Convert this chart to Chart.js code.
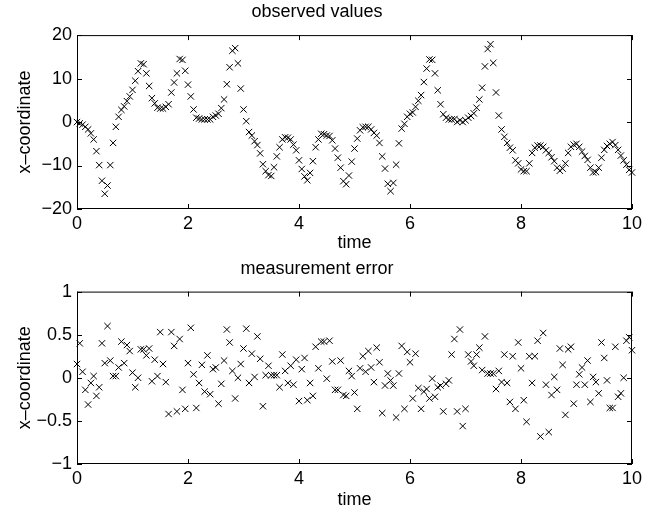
<!DOCTYPE html>
<html>
<head>
<meta charset="utf-8">
<script src="https://cdn.jsdelivr.net/npm/chart.js@4"></script>
<style>
body { margin: 0; background: #fff; }
canvas { position: absolute; left: 0; }
#topChart { top: 0; }
#bottomChart { top: 258px; }
</style>
</head>
<body>
<canvas id="topChart" width="646" height="258"></canvas>
<canvas id="bottomChart" width="646" height="258"></canvas>
<script>
// sample times (s)
const time = [
  0, 0.05, 0.1, 0.15, 0.2, 0.25, 0.3, 0.35, 0.4, 0.45, 0.5, 0.55, 0.6, 0.65, 0.7, 0.75, 0.8, 0.85, 0.9, 0.95,
  1, 1.05, 1.1, 1.15, 1.2, 1.25, 1.3, 1.35, 1.4, 1.45, 1.5, 1.55, 1.6, 1.65, 1.7, 1.75, 1.8, 1.85, 1.9, 1.95,
  2, 2.05, 2.1, 2.15, 2.2, 2.25, 2.3, 2.35, 2.4, 2.45, 2.5, 2.55, 2.6, 2.65, 2.7, 2.75, 2.8, 2.85, 2.9, 2.95,
  3, 3.05, 3.1, 3.15, 3.2, 3.25, 3.3, 3.35, 3.4, 3.45, 3.5, 3.55, 3.6, 3.65, 3.7, 3.75, 3.8, 3.85, 3.9, 3.95,
  4, 4.05, 4.1, 4.15, 4.2, 4.25, 4.3, 4.35, 4.4, 4.45, 4.5, 4.55, 4.6, 4.65, 4.7, 4.75, 4.8, 4.85, 4.9, 4.95,
  5, 5.05, 5.1, 5.15, 5.2, 5.25, 5.3, 5.35, 5.4, 5.45, 5.5, 5.55, 5.6, 5.65, 5.7, 5.75, 5.8, 5.85, 5.9, 5.95,
  6, 6.05, 6.1, 6.15, 6.2, 6.25, 6.3, 6.35, 6.4, 6.45, 6.5, 6.55, 6.6, 6.65, 6.7, 6.75, 6.8, 6.85, 6.9, 6.95,
  7, 7.05, 7.1, 7.15, 7.2, 7.25, 7.3, 7.35, 7.4, 7.45, 7.5, 7.55, 7.6, 7.65, 7.7, 7.75, 7.8, 7.85, 7.9, 7.95,
  8, 8.05, 8.1, 8.15, 8.2, 8.25, 8.3, 8.35, 8.4, 8.45, 8.5, 8.55, 8.6, 8.65, 8.7, 8.75, 8.8, 8.85, 8.9, 8.95,
  9, 9.05, 9.1, 9.15, 9.2, 9.25, 9.3, 9.35, 9.4, 9.45, 9.5, 9.55, 9.6, 9.65, 9.7, 9.75, 9.8, 9.85, 9.9, 9.95,
  10
];

// observed x-coordinate
const observed = [
  0.0, -0.3, -0.6, -1.1, -1.7, -2.6, -4.0, -6.7, -9.9, -13.5,
  -16.5, -14.6, -9.9, -4.8, -1.1, 1.2, 2.8, 3.6, 4.8, 5.9,
  7.4, 9.5, 11.7, 13.5, 13.3, 11.2, 8.3, 5.5, 4.3, 3.3,
  3.1, 3.1, 3.5, 4.1, 6.8, 9.1, 11.2, 14.5, 14.3, 11.8,
  8.6, 5.9, 2.9, 1.0, 0.8, 0.6, 0.6, 0.6, 0.6, 1.2,
  1.5, 1.9, 3.2, 5.2, 8.7, 12.6, 16.4, 17.0, 13.5, 7.7,
  2.9, 0.2, -2.3, -3.1, -4.4, -5.3, -7.2, -9.7, -11.3, -12.2,
  -12.4, -10.4, -7.9, -5.8, -4.0, -3.5, -3.6, -4.0, -5.2, -6.5,
  -8.8, -10.8, -12.5, -13.4, -11.7, -9.0, -5.8, -4.0, -2.7, -2.8,
  -3.1, -3.2, -4.2, -6.1, -8.2, -10.5, -13.6, -14.3, -12.3, -9.1,
  -6.1, -3.8, -1.9, -1.2, -1.1, -1.1, -1.7, -2.5, -3.1, -4.8,
  -7.9, -10.7, -14.2, -15.9, -14.0, -9.8, -4.9, -1.5, -0.4, 1.2,
  1.9, 2.2, 3.5, 4.9, 6.2, 9.2, 12.3, 14.4, 14.3, 11.2,
  7.3, 4.1, 1.8, 1.0, 0.6, 0.6, 0.7, 0.0, 0.4, 0.0,
  0.4, 1.0, 1.4, 2.0, 3.3, 5.2, 7.9, 12.8, 16.8, 17.9,
  13.6, 6.8, 1.5, -1.7, -3.4, -4.8, -5.9, -6.5, -8.8, -9.5,
  -10.9, -11.3, -11.3, -9.5, -7.1, -5.9, -5.4, -5.4, -5.7, -6.5,
  -7.1, -8.1, -9.0, -10.5, -11.2, -10.7, -9.5, -7.1, -5.7, -5.2,
  -5.0, -5.7, -6.8, -7.8, -8.7, -10.5, -11.6, -11.5, -10.5, -8.2,
  -6.4, -5.5, -5.0, -4.6, -5.3, -6.4, -7.7, -8.8, -9.8, -11.0,
  -11.6
];

// measurement error
const measError = [
  0.16, 0.40, 0.07, -0.14, -0.31, -0.06, 0.02, -0.21, -0.11, 0.40,
  0.17, 0.60, 0.20, 0.02, 0.02, 0.12, 0.42, 0.17, 0.38, 0.31,
  0.06, -0.11, 0.00, 0.33, 0.33, 0.26, 0.34, -0.04, 0.21, 0.02,
  0.53, 0.16, -0.05, -0.42, 0.53, 0.37, -0.39, 0.45, -0.14, -0.36,
  0.17, 0.58, 0.04, -0.35, -0.06, 0.15, -0.16, 0.26, -0.19, 0.10,
  0.12, -0.30, -0.07, 0.20, 0.56, 0.41, 0.08, -0.24, 0.00, 0.16,
  0.34, 0.57, -0.06, 0.28, 0.01, 0.48, 0.22, -0.33, 0.03, 0.14,
  0.03, 0.03, 0.03, -0.11, 0.27, 0.08, -0.06, 0.14, -0.08, 0.21,
  -0.27, 0.10, 0.23, -0.26, -0.06, -0.21, 0.36, 0.11, 0.42, 0.42,
  -0.01, 0.43, 0.19, -0.14, -0.14, 0.20, -0.20, -0.21, 0.08, 0.02,
  -0.17, -0.36, 0.11, 0.25, 0.07, 0.31, 0.12, -0.05, 0.35, 0.18,
  -0.41, -0.09, 0.05, -0.03, -0.09, -0.46, 0.05, 0.37, -0.36, 0.30,
  0.18, -0.24, 0.28, -0.12, -0.36, -0.16, -0.13, -0.24, -0.01, -0.22,
  -0.11, -0.09, -0.39, -0.07, -0.03, 0.27, 0.45, -0.39, 0.56, -0.56,
  -0.36, 0.27, 0.19, 0.14, 0.27, 0.35, 0.09, 0.48, 0.05, 0.05,
  0.05, -0.13, 0.08, -0.05, 0.27, -0.06, -0.28, 0.25, -0.36, 0.41,
  0.11, -0.26, -0.51, 0.25, -0.06, 0.25, 0.43, -0.68, 0.52, -0.08,
  -0.63, -0.20, 0.01, -0.14, 0.34, 0.15, -0.43, 0.33, 0.36, -0.30,
  -0.08, 0.04, 0.12, -0.08, 0.20, -0.28, 0.01, -0.05, -0.18, 0.41,
  0.23, -0.03, -0.35, -0.35, 0.36, -0.22, -0.18, 0.00, 0.43, 0.47,
  0.32
];

const timeTicks = [0, 2, 4, 6, 8, 10];
const observedTicks = [-20, -10, 0, 10, 20];
const errorTicks = [-1, -0.5, 0, 0.5, 1];

const FONT = '"Liberation Sans", Arial, Helvetica, sans-serif';

// matlab style: closed box, tick marks pointing inwards
const boxPlugin = {
  id: 'box',
  afterDatasetsDraw(chart) {
    const {ctx, chartArea: a, scales} = chart;
    ctx.save();
    ctx.strokeStyle = '#000';
    ctx.lineWidth = 1;
    ctx.strokeRect(a.left + 0.5, a.top + 0.5, a.right - a.left - 1, a.bottom - a.top - 1);
    ctx.beginPath();
    scales.x.ticks.forEach(t => {
      const px = Math.round(scales.x.getPixelForValue(t.value)) + 0.5;
      ctx.moveTo(px, a.bottom); ctx.lineTo(px, a.bottom - 5);
      ctx.moveTo(px, a.top); ctx.lineTo(px, a.top + 5);
    });
    scales.y.ticks.forEach(t => {
      const py = Math.round(scales.y.getPixelForValue(t.value)) + 0.5;
      ctx.moveTo(a.left, py); ctx.lineTo(a.left + 5, py);
      ctx.moveTo(a.right, py); ctx.lineTo(a.right - 5, py);
    });
    ctx.stroke();
    ctx.restore();
  }
};

function fmt(v) {
  return v < 0 ? '\u2212' + String(-v) : String(v);
}

function makeChart(id, values, yTicks, title, titlePad, xAxisHeight, xTitlePad) {
  const ctx = document.getElementById(id).getContext('2d');
  return new Chart(ctx, {
    type: 'scatter',
    data: {
      datasets: [{
        data: time.map((t, i) => ({x: t, y: values[i]})),
        pointStyle: 'crossRot',
        pointRadius: 4.5,
        pointBorderWidth: 1,
        pointBorderColor: '#000',
        pointBackgroundColor: '#000',
        clip: false
      }]
    },
    options: {
      responsive: false,
      animation: false,
      devicePixelRatio: 1,
      layout: { padding: { top: 0, right: 12, bottom: 0, left: 0 } },
      plugins: {
        legend: { display: false },
        tooltip: { enabled: false },
        title: {
          display: true,
          text: title,
          color: '#000',
          font: { family: FONT, size: 18, weight: 'normal' },
          padding: titlePad
        }
      },
      scales: {
        x: {
          type: 'linear',
          min: 0, max: 10,
          afterBuildTicks: s => { s.ticks = timeTicks.map(v => ({value: v})); },
          afterFit: s => { s.height = xAxisHeight; },
          grid: { display: false, drawTicks: false },
          border: { display: false },
          ticks: { color: '#000', font: { family: FONT, size: 18 }, padding: 4, maxRotation: 0, autoSkip: false },
          title: { display: true, text: 'time', color: '#000', font: { family: FONT, size: 18 }, padding: { top: 0, bottom: xTitlePad } }
        },
        y: {
          type: 'linear',
          min: yTicks[0], max: yTicks[yTicks.length - 1],
          afterBuildTicks: s => { s.ticks = yTicks.map(v => ({value: v})); },
          afterFit: s => { s.width = 77; },
          grid: { display: false, drawTicks: false },
          border: { display: false },
          ticks: { color: '#000', font: { family: FONT, size: 18 }, padding: 5, autoSkip: false, callback: v => fmt(v) },
          title: { display: true, text: 'x\u2013coordinate', color: '#000', font: { family: FONT, size: 18 }, padding: { top: 14, bottom: 0 } }
        }
      }
    },
    plugins: [boxPlugin]
  });
}

makeChart('topChart', observed, observedTicks, 'observed values', { top: 1, bottom: 12.5 }, 49, 4);
makeChart('bottomChart', measError, errorTicks, 'measurement error', { top: 0, bottom: 12 }, 52, 5);
</script>
</body>
</html>
